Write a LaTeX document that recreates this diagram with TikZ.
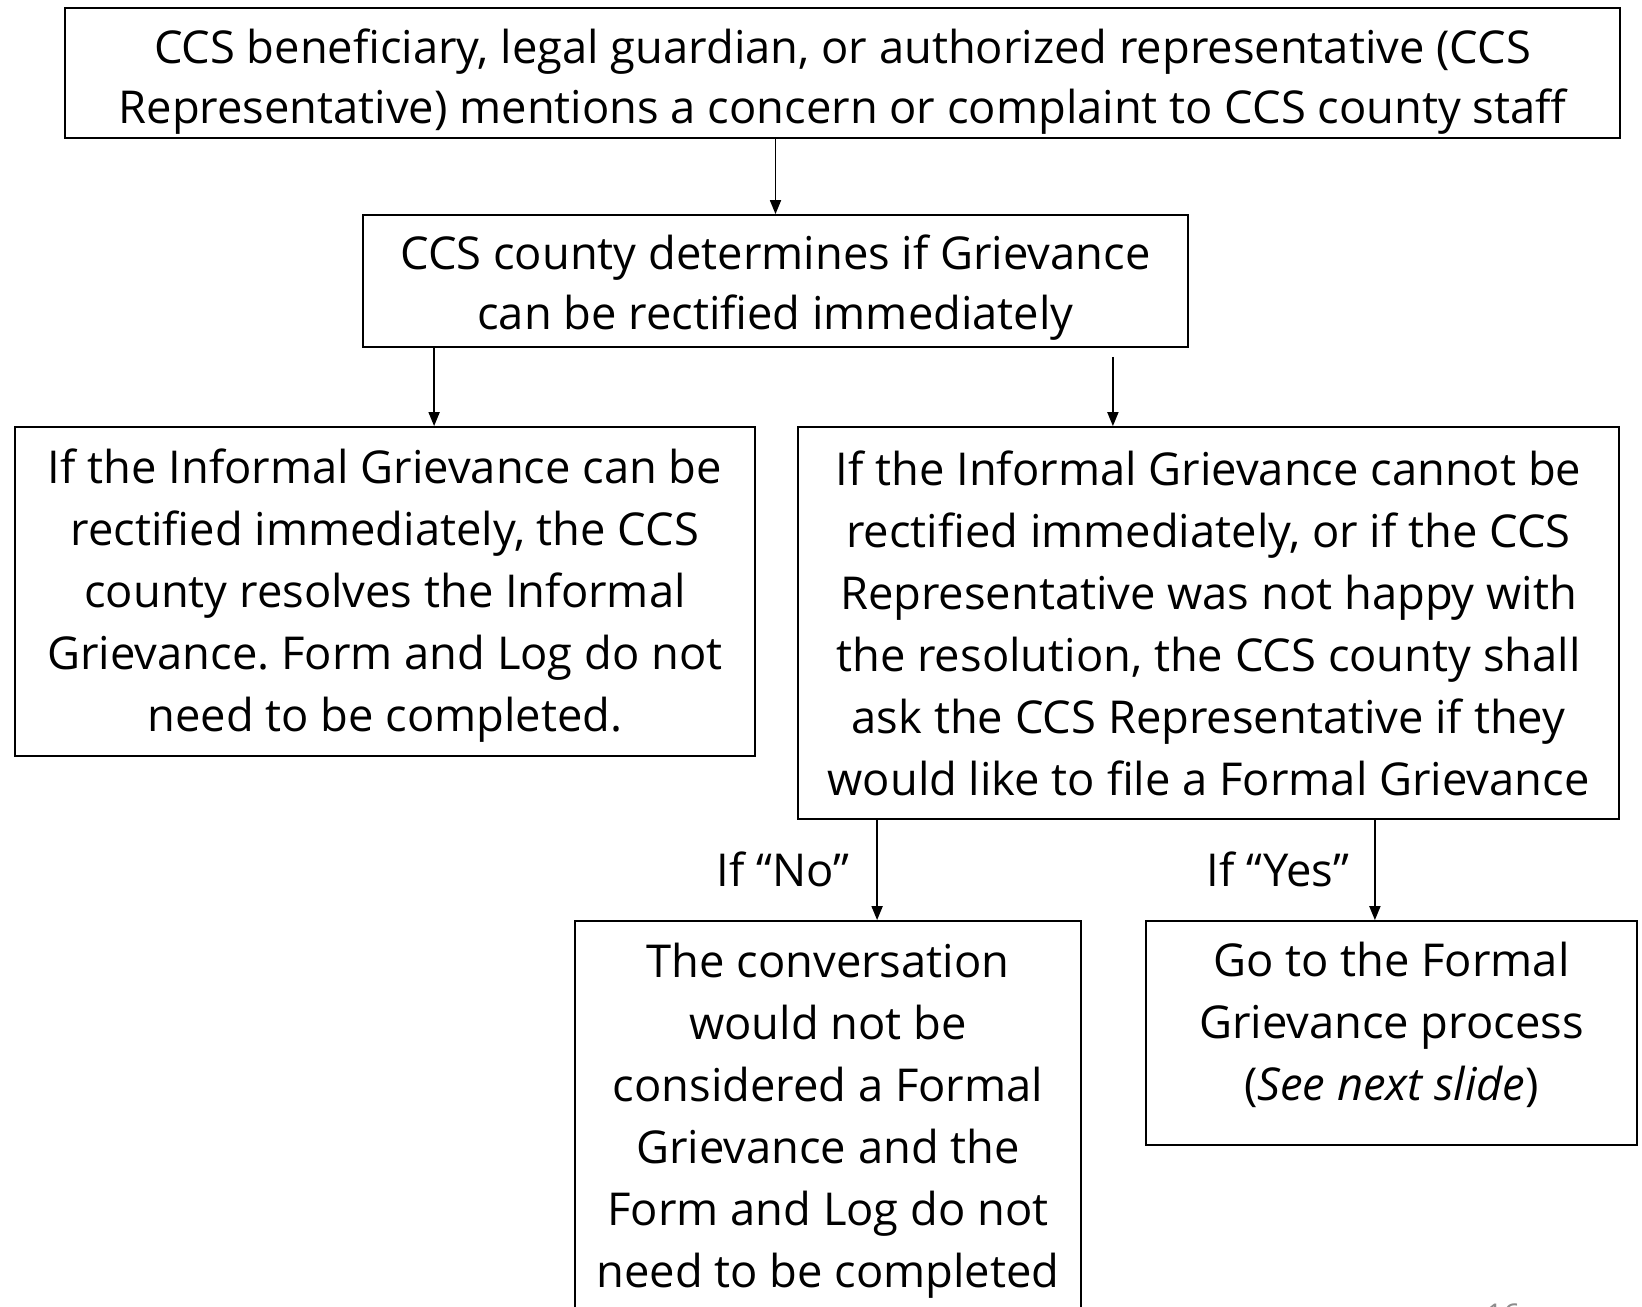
\documentclass[tikz,border=0pt]{standalone}
\usepackage{fontspec}
\setmainfont{Open Sans}
\usetikzlibrary{arrows.meta}
\frenchspacing
\begin{document}
\begin{tikzpicture}[x=1pt,y=-1pt,
  box/.style={draw=black, line width=1.8pt, inner sep=0pt},
  txt/.style={align=center, inner sep=0pt, font=\fontsize{45.3}{62}\selectfont},
  lbl/.style={font=\fontsize{45.3}{62}\selectfont, inner sep=0pt},
  arr/.style={line width=1.8pt, -{Triangle[length=14pt,width=11pt]}}]
\useasboundingbox[fill=white] (0,0) rectangle (1642,1307);
% boxes
\node[box, minimum width=1555pt, minimum height=130pt] (top) at (842.5,73) {};
\node[box, minimum width=825pt, minimum height=132pt] (det) at (775.5,281) {};
\node[box, minimum width=740pt, minimum height=329pt] (left) at (385,591.5) {};
\node[box, minimum width=821pt, minimum height=392pt] (right) at (1208.5,623) {};
\node[box, minimum width=506pt, minimum height=389pt] (no) at (828,1115.5) {};
\node[box, minimum width=491pt, minimum height=224pt] (yes) at (1391.5,1033) {};
% texts
\node[txt, font=\fontsize{45.3}{60}\selectfont] (toptext) at ([yshift=-9pt]top.center)
  {CCS beneficiary, legal guardian, or authorized representative (CCS\\Representative) mentions a concern or complaint to CCS county staff};
\node[txt, font=\fontsize{45.3}{60}\selectfont] (dettext) at ([yshift=-7pt]det.center)
  {CCS county determines if Grievance\\can be rectified immediately};
\node[txt] (lefttext) at ([yshift=-4pt]left.center)
  {If the Informal Grievance can be\\rectified immediately, the CCS\\county resolves the Informal\\Grievance. Form and Log do not\\need to be completed.};
\node[txt] (righttext) at (right.center)
  {If the Informal Grievance cannot be\\rectified immediately, or if the CCS\\Representative was not happy with\\the resolution, the CCS county shall\\ask the CCS Representative if they\\would like to file a Formal Grievance};
\node[txt] (notext) at ([yshift=-5pt]no.center)
  {The conversation\\would not be\\considered a Formal\\Grievance and the\\Form and Log do not\\need to be completed};
\node[txt] (yestext) at ([yshift=8pt]yes.center)
  {Go to the Formal\\Grievance process\\(\textit{See next slide})};
\node[lbl] (lno) at (783,869) {If “No”};
\node[lbl] (lyes) at (1278,869) {If “Yes”};
\node[font=\fontsize{30}{36}\selectfont, text=black!45, anchor=north, inner sep=0pt] (pg) at (1503,1304) {16};
% connectors
\draw[arr] (det.north |- top.south) -- (det.north);
\draw[arr] ([xshift=72pt]det.south west) -- ([xshift=72pt]det.south west |- left.north);
\draw[arr] ([xshift=-76pt,yshift=-9pt]det.south east) -- ([xshift=-76pt]det.south east |- right.north);
\draw[arr] ([xshift=80pt]right.south west) -- ([xshift=80pt]right.south west |- no.north);
\draw[arr] ([xshift=-245pt]right.south east) -- ([xshift=-245pt]right.south east |- yes.north);
\end{tikzpicture}
\end{document}
